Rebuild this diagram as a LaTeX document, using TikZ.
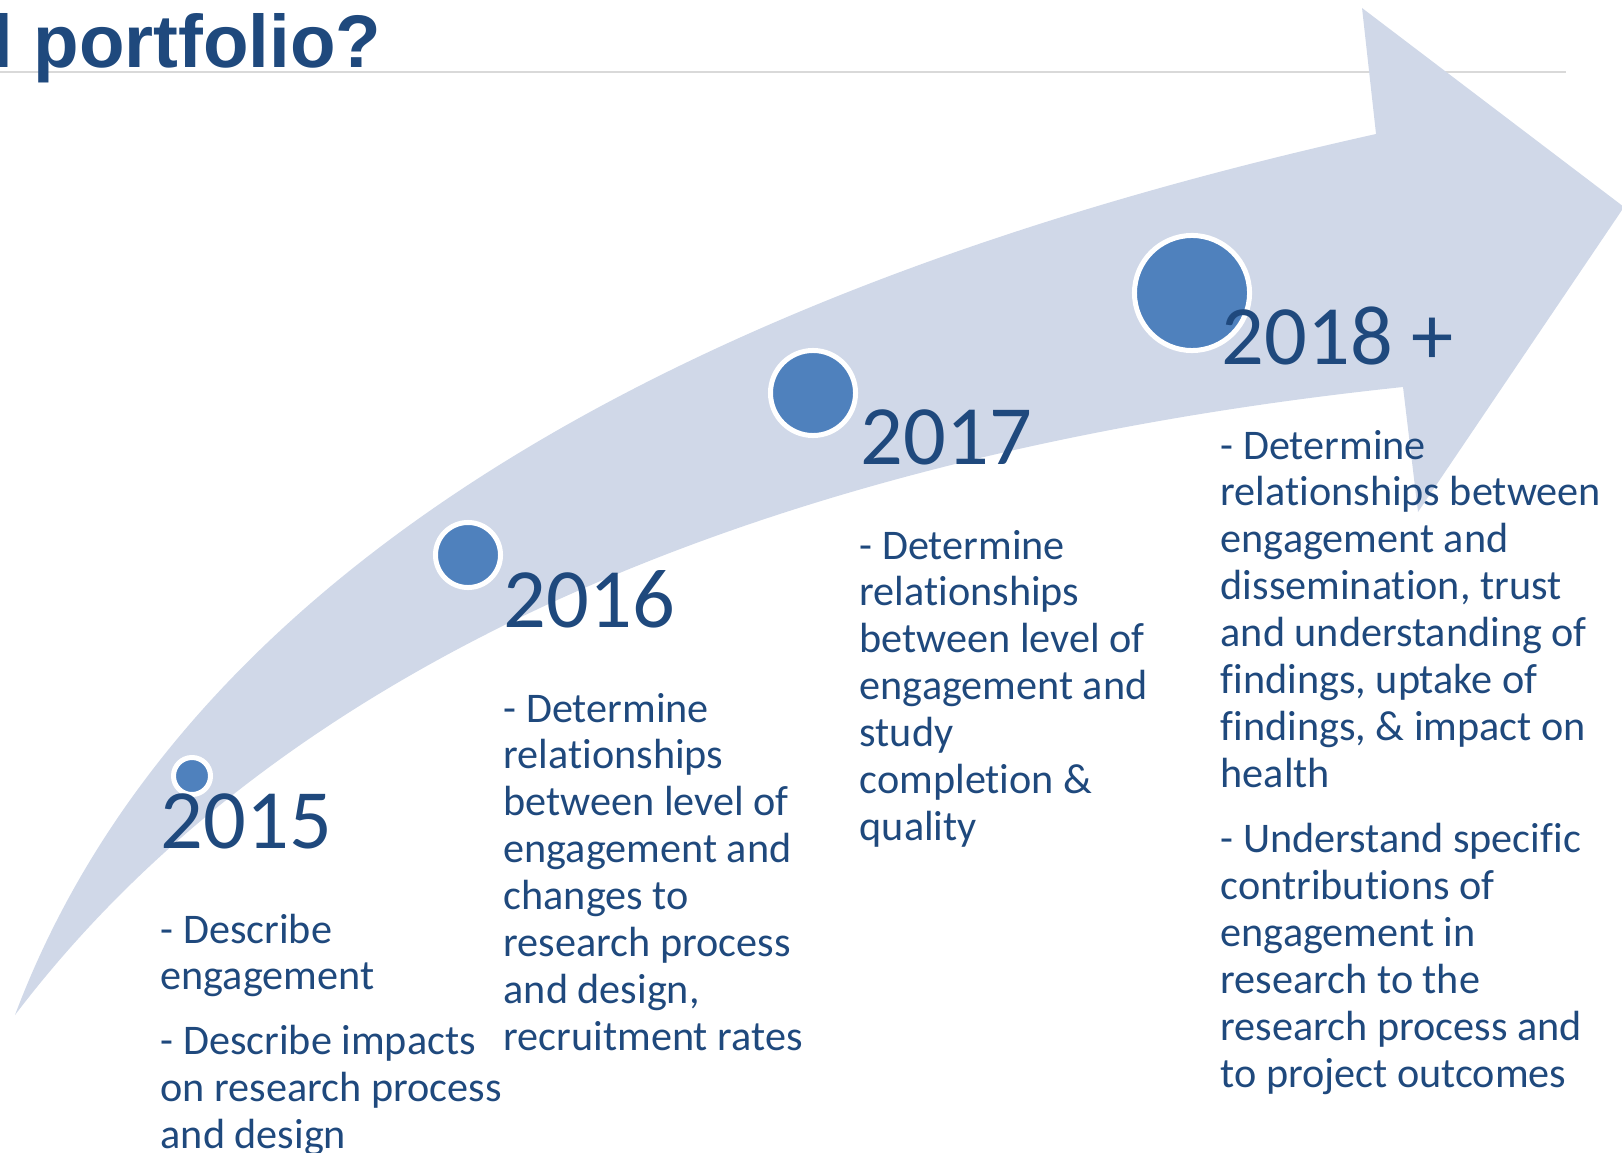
\documentclass[tikz,border=0pt]{standalone}
\usepackage{fontspec}
\setmainfont{Carlito}[Ligatures=CommonOff]
\newfontfamily\headfont{Liberation Sans}
\definecolor{bandblue}{HTML}{D0D8E8}
\definecolor{dotblue}{HTML}{4F81BD}
\definecolor{inkblue}{HTML}{1F497D}
\definecolor{rulegray}{HTML}{D9D9D9}
\newcommand\goallines[1]{\begin{tabular}[t]{@{}l@{}}#1\end{tabular}}

\begin{document}
\begin{tikzpicture}[x=0.01cm,y=-0.01cm,
    dot/.style={circle,fill=dotblue,draw=white,line width=0.05cm,inner sep=0pt},
    year/.style={anchor=base west,inner sep=0pt,text=inkblue,font=\fontsize{24}{28.8}\selectfont},
    goal/.style={anchor=base west,inner sep=0pt,text=inkblue,font=\fontsize{12}{13.36}\selectfont}]
    \useasboundingbox (0,0) rectangle (1622,1152);

    \draw [rulegray,line width=0.02cm] (0,72) -- (1566,72);
    \node[anchor=base east,inner sep=0pt,text=inkblue,font=\headfont\bfseries\fontsize{21.2}{26}\selectfont] (title) at (382,68) {l portfolio?};

    % curved band with its head
    \fill [bandblue] (15,1015) .. controls (220,470) and (900,240) .. (1376,134)
        -- (1362,8) -- (1624,207) -- (1418,512) -- (1403,387)
        .. controls (900,440) and (330,600) .. (15,1015) -- cycle;

    \node[dot,minimum size=0.37cm] (d15) at (192,776) {};
    \node[dot,minimum size=0.65cm] (d16) at (468,555) {};
    \node[dot,minimum size=0.85cm] (d17) at (813,393) {};
    \node[dot,minimum size=1.15cm] (d18) at (1192,293) {};

    \node[year] (y15) at (160,848) {2015};
    \node[year] (y16) at (503,627) {2016};
    \node[year] (y17) at (860,464) {2017};
    \node[year] (y18) at (1221,364) {2018 +};

    \node[goal] (g15) at (160,943) {\goallines{- Describe\\engagement\\[5pt]- Describe impacts\\on research process\\and design}};
    \node[goal] (g16) at (503,722) {\goallines{- Determine\\relationships\\between level of\\engagement and\\changes to\\research process\\and design,\\recruitment rates}};
    \node[goal] (g17) at (859,559) {\goallines{- Determine\\relationships\\between level of\\engagement and\\study\\completion \&\\quality}};
    \node[goal] (g18) at (1220,459) {\goallines{- Determine\\relationships between\\engagement and\\dissemination, trust\\and understanding of\\findings, uptake of\\findings, \& impact on\\health\\[5pt]- Understand specific\\contributions of\\engagement in\\research to the\\research process and\\to project outcomes}};
\end{tikzpicture}
\end{document}
